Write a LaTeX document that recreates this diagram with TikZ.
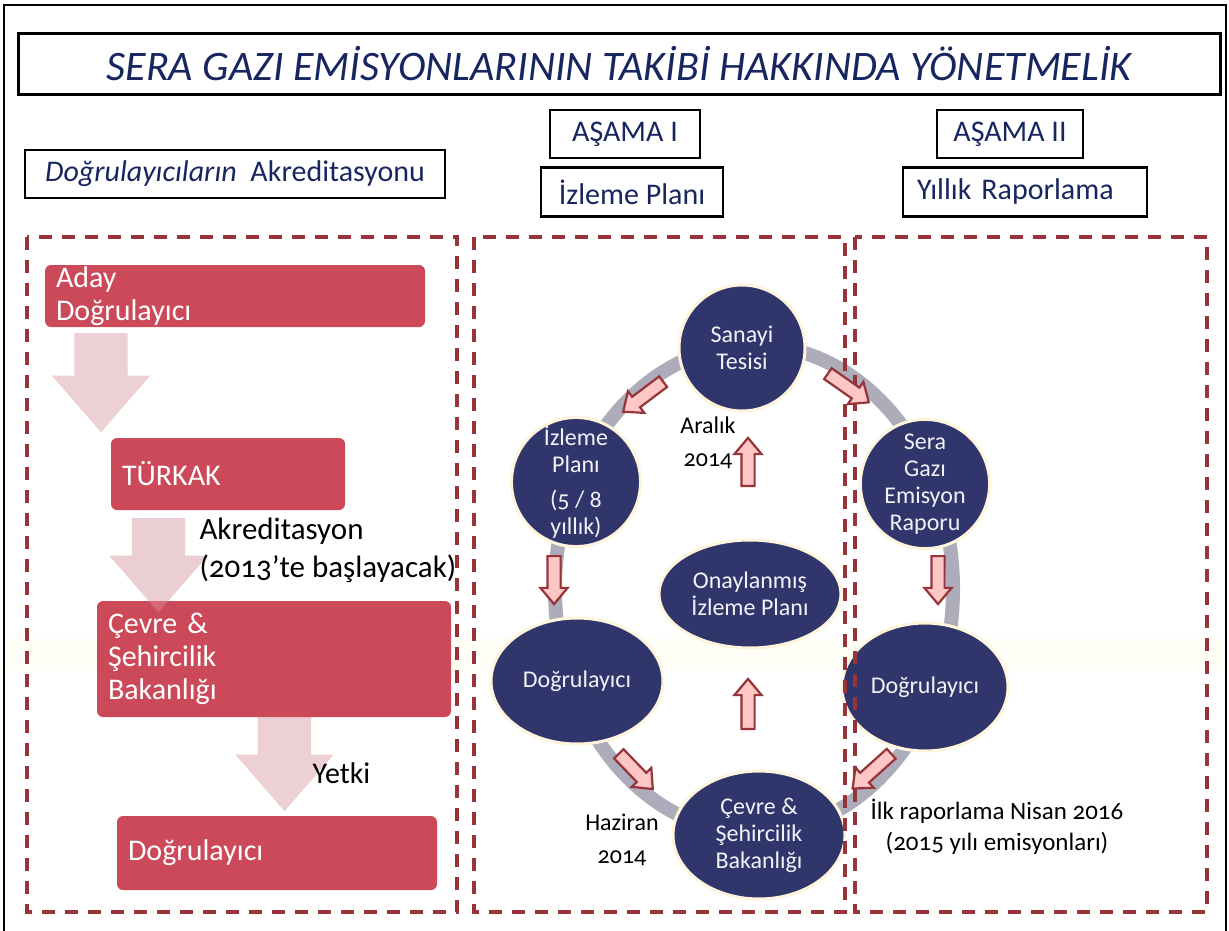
\documentclass[tikz,border=0pt]{standalone}
\usepackage{fontspec}
\setmainfont{Carlito}[Numbers=OldStyle]
\usetikzlibrary{shapes.arrows, shapes.geometric, positioning, calc}

\definecolor{titleblue}{RGB}{24,38,96}
\definecolor{boxred}{RGB}{204,73,90}
\definecolor{paleflow}{RGB}{233,200,205}
\definecolor{cyclenavy}{RGB}{48,54,108}
\definecolor{cyclerim}{RGB}{255,244,220}
\definecolor{cycletext}{RGB}{242,242,246}
\definecolor{ringgrey}{RGB}{172,172,186}
\definecolor{tipfill}{RGB}{255,198,198}
\definecolor{darkred}{RGB}{150,52,58}
\definecolor{glow}{RGB}{255,254,247}

\begin{document}
\begin{tikzpicture}[x=1pt, y=-1pt,
    header/.style={draw=black, line width=2.2pt, inner sep=0pt, minimum height=48pt,
      text=titleblue, font=\fontsize{30}{34}\selectfont},
    redbox/.style={fill=boxred, rounded corners=6pt, text=white, align=left,
      inner xsep=11pt, inner ysep=0pt, font=\fontsize{30}{33}\selectfont},
    flow/.style={single arrow, anchor=tail, fill=paleflow, fill opacity=.85, rotate=-90,
      inner xsep=0pt, inner ysep=26.5pt, minimum width=0pt, single arrow head extend=22.5pt,
      single arrow head indent=0pt, single arrow tip angle=82, minimum height=94pt},
    cycle/.style={fill=cyclenavy, draw=cyclerim, line width=3pt, text=cycletext,
      align=center, inner sep=0pt, font=\fontsize{24}{27}\selectfont},
    turn/.style={single arrow, anchor=tail, fill=tipfill, draw=darkred, line width=2.2pt,
      inner xsep=0pt, inner ysep=5.5pt, minimum width=0pt, single arrow head extend=7pt,
      single arrow head indent=0pt, single arrow tip angle=80, minimum height=48pt},
    note/.style={align=center, font=\fontsize{24}{33}\selectfont},
    zone/.style={draw=darkred, line width=3.2pt, dash pattern=on 13pt off 10pt}
  ]
  \useasboundingbox (0,0) rectangle (1229,931);
  \fill[glow] (5,638) rectangle (1225,670);
  \draw[line width=2pt] (4,931) -- (4,5) -- (1226,5) -- (1226,931);

  % titles
  \node[header, line width=3pt, minimum width=1202pt, minimum height=61pt,
    font=\fontsize{42}{44}\selectfont\itshape] (title) at (619,64)
    {SERA GAZI EMİSYONLARININ TAKİBİ HAKKINDA YÖNETMELİK};
  \node[header, minimum width=420pt] (akred) at (235,174)
    {{\itshape Doğrulayıcıların}\ \ Akreditasyonu};
  \node[header, minimum width=150pt] (phaseone) at (625,134) {AŞAMA I};
  \node[header, minimum width=146pt] (phasetwo) at (1010,134) {AŞAMA II};
  \node[header, minimum width=182pt, minimum height=49pt] (planhead) at (632,192) {İzleme Planı};
  \node[header, minimum height=49pt, inner xsep=14pt, text width=216pt, align=left]
    (reporthead) at (1025,192) {Yıllık Raporlama};

  % left column
  \node[flow, minimum height=99pt] (flowa) at (101,333) {};
  \node[flow] (flowb) at (158.5,518) {};
  \node[flow] (flowc) at (284.5,717) {};
  \node[redbox, text width=358pt, minimum height=62pt] (aday) at (235,296) {Aday\\Doğrulayıcı};
  \node[redbox, text width=212pt, minimum height=72pt] (turkak) at (228,474) {TÜRKAK};
  \node[redbox, text width=332pt, minimum height=116pt] (ministry) at (274,659)
    {Çevre \&\\Şehircilik\\Bakanlığı};
  \node[redbox, text width=298pt, minimum height=74pt] (verifier) at (277,853) {Doğrulayıcı};
  \node[flow, fill opacity=.25] at (flowb.tail) {};
  \node[anchor=west, align=left, font=\fontsize{31}{38}\selectfont] (accnote) at (196,550)
    {Akreditasyon\\(2013’te başlayacak)};
  \node[anchor=west, font=\fontsize{30}{34}\selectfont] (authnote) at (309,773) {Yetki};

  % cycle
  \draw[ringgrey, line width=14pt] (754,589) ellipse [x radius=199pt, y radius=244pt];
  \node[cycle, circle, minimum size=126pt] (plant) at (742,348) {Sanayi\\Tesisi};
  \node[cycle, circle, minimum size=128pt] (plan) at (576,482)
    {İzleme\\Planı\\[8pt](5 / 8\\yıllık)};
  \node[cycle, ellipse, minimum width=172pt, minimum height=126pt] (vermid) at (577,681) {Doğrulayıcı};
  \node[cycle, ellipse, minimum width=172pt, minimum height=128pt] (ministrycyc) at (759,835)
    {Çevre \&\\Şehircilik\\Bakanlığı};
  \node[cycle, ellipse, minimum width=182pt, minimum height=108pt] (approved) at (750,594)
    {Onaylanmış\\İzleme Planı};
  \node[cycle, circle, minimum size=126pt] (report) at (925,484) {Sera\\Gazı\\Emisyon\\Raporu};
  \node[cycle, ellipse, minimum width=166pt, minimum height=128pt] (verright) at (925,687) {Doğrulayıcı};

  % phase frames
  \draw[zone] (27,237) rectangle (457,912);
  \draw[zone] (474,237) rectangle (845,912);
  \draw[zone] (855,237) rectangle (1207,912);

  \node[turn, rotate=217, minimum height=50pt] (turna) at (664,381) {};
  \node[turn, rotate=-35, minimum height=50pt] (turnb) at (827,373) {};
  \node[turn, rotate=-90] (turnc) at (554,555) {};
  \node[turn, rotate=-90] (turnd) at (938,555) {};
  \node[turn, rotate=-46, minimum height=49pt] (turne) at (618,753) {};
  \node[turn, rotate=222, minimum height=52pt] (turnf) at (892,753) {};
  \node[turn, rotate=90] (turng) at (748,487) {};
  \node[turn, rotate=90, minimum height=50pt] (turnh) at (748,730) {};

  \node[note] (dec) at (708,443) {Aralık\\2014};
  \node[note] (june) at (622,840) {Haziran\\2014};
  \node[note, font=\fontsize{25}{31}\selectfont] (firstreport) at (997,827)
    {İlk raporlama Nisan 2016\\(2015 yılı emisyonları)};
\end{tikzpicture}
\end{document}
